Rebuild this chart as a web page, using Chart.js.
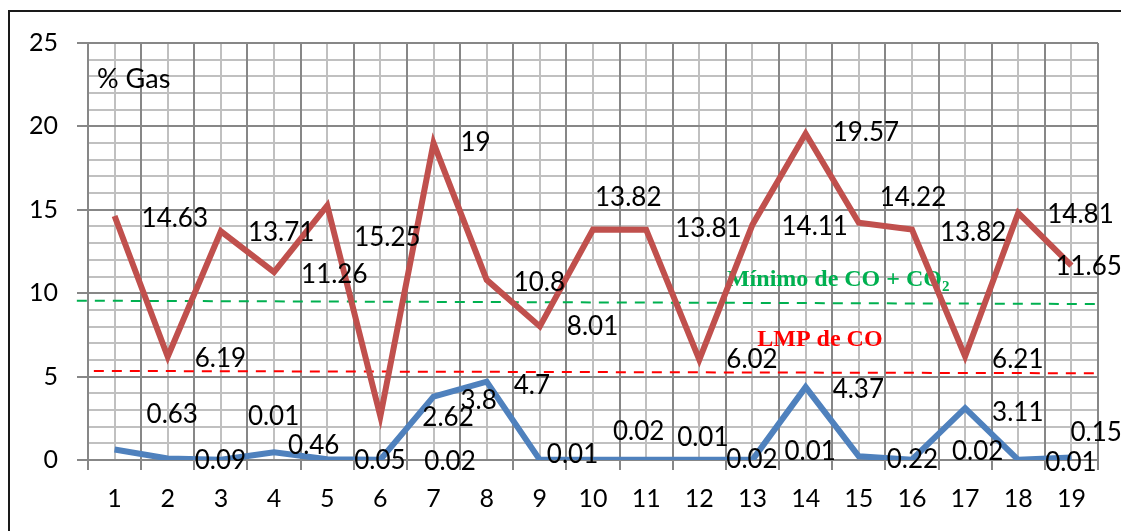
<!DOCTYPE html>
<html>
<head>
<meta charset="utf-8">
<script src="https://cdn.jsdelivr.net/npm/chart.js@4.4.1/dist/chart.umd.min.js"></script>
<style>
  html, body { margin:0; padding:0; background:#fff; overflow:hidden; }
  #frame { position:absolute; left:8px; top:10px; width:2000px; height:2000px; border:2px solid #1a1a1a; }
  #wrap { position:absolute; left:0; top:0; width:1121px; height:531px; }
</style>
</head>
<body>
<div id="frame"></div>
<div id="wrap"><canvas id="gasChart" width="1121" height="531"></canvas></div>
<script>
// muestras 1..19
const muestras = ['1','2','3','4','5','6','7','8','9','10','11','12','13','14','15','16','17','18','19'];
// CO + CO2 (%)
const coCo2 = [14.63, 6.19, 13.71, 11.26, 15.25, 2.62, 19, 10.8, 8.01, 13.82, 13.81, 6.02, 14.11, 19.57, 14.22, 13.82, 6.21, 14.81, 11.65];
// CO (%)
const co = [0.63, 0.09, 0.01, 0.46, 0.05, 0.02, 3.8, 4.7, 0.01, 0.02, 0.01, 0.02, 0.01, 4.37, 0.22, 0.02, 3.11, 0.01, 0.15];
// limites (valor en el extremo izquierdo y derecho)
const minimoCoCo2 = [9.55, 9.35];
const lmpCo = [5.34, 5.2];

// ajuste a mano de cada etiqueta [dx, dy]
const nudgeRojo = [[0,3],[0,2],[0,1],[0,2],[0,32],[15,1],[0,0],[0,3],[0,0],[-25,-32],[2,-1],[0,0],[2,2],[0,-1],[-6,-25],[1,3],[0,3],[2,2],[-43,1]];
const nudgeAzul = [[5,-35],[0,2],[0,-43],[-13,-7],[0,1],[17,2],[0,4],[0,4],[-20,-5],[-7,-28],[4,-22],[0,0],[5,-8],[0,3],[1,3],[13,-8],[0,4],[0,3],[-28,-25]];

const MAYOR = '#878787';
const MENOR = '#c0c0c0';

const fondoPlugin = {
    id: 'fondo',
    beforeDraw(chart){
        const ctx = chart.ctx, a = chart.chartArea;
        const xs = chart.scales.x, ys = chart.scales.y;
        ctx.save();
        ctx.strokeStyle = MENOR;
        ctx.lineWidth = 2;
        // lineas menores verticales (centro de cada muestra)
        for(let i=0;i<muestras.length;i++){
            const px = Math.round(xs.getPixelForValue(i));
            ctx.beginPath(); ctx.moveTo(px, a.top); ctx.lineTo(px, a.bottom); ctx.stroke();
        }
        // lineas menores horizontales (cada 1 %)
        for(let v=1; v<25; v++){
            if(v%5==0) continue;
            const py = Math.round(ys.getPixelForValue(v));
            ctx.beginPath(); ctx.moveTo(a.left, py); ctx.lineTo(a.right, py); ctx.stroke();
        }
        ctx.restore();
    }
};

const limitesPlugin = {
    id: 'limites',
    beforeDatasetsDraw(chart){
        const ctx = chart.ctx;
        const xs = chart.scales.x, ys = chart.scales.y;
        ctx.save();
        ctx.lineWidth = 2;
        ctx.setLineDash([10, 8]);
        // minimo de CO + CO2
        ctx.strokeStyle = '#00b050';
        ctx.beginPath();
        ctx.moveTo(xs.getPixelForValue(-0.71), ys.getPixelForValue(minimoCoCo2[0]));
        ctx.lineTo(xs.getPixelForValue(18.55), ys.getPixelForValue(minimoCoCo2[1]));
        ctx.stroke();
        // LMP de CO
        ctx.strokeStyle = '#ff0000';
        ctx.beginPath();
        ctx.moveTo(xs.getPixelForValue(-0.39), ys.getPixelForValue(lmpCo[0]));
        ctx.lineTo(xs.getPixelForValue(18.5), ys.getPixelForValue(lmpCo[1]));
        ctx.stroke();
        ctx.setLineDash([]);

        // textos
        ctx.textBaseline = 'middle';
        ctx.textAlign = 'left';
        ctx.font = 'bold 24px "Liberation Serif", serif';
        ctx.fillStyle = '#00b050';
        let tx = xs.getPixelForValue(11.52), ty = ys.getPixelForValue(10.8);
        const t1 = 'Mínimo de CO + CO';
        ctx.fillText(t1, tx, ty);
        const w1 = ctx.measureText(t1).width;
        ctx.font = 'bold 15px "Liberation Serif", serif';
        ctx.fillText('2', tx + w1, ty + 7);

        ctx.font = 'bold 24px "Liberation Serif", serif';
        ctx.fillStyle = '#ff0000';
        ctx.fillText('LMP de CO', xs.getPixelForValue(12.09), ys.getPixelForValue(7.2));

        // % Gas
        ctx.font = '27px Lato, sans-serif';
        ctx.fillStyle = '#000';
        ctx.fillText('% Gas', xs.getPixelForValue(-0.33), ys.getPixelForValue(22.8));
        ctx.restore();
    }
};

const etiquetasPlugin = {
    id: 'etiquetas',
    afterDatasetsDraw(chart){
        const ctx = chart.ctx;
        const nudges = [nudgeRojo, nudgeAzul];
        ctx.save();
        ctx.font = '26px Lato, sans-serif';
        ctx.fillStyle = '#000';
        ctx.textAlign = 'left';
        ctx.textBaseline = 'middle';
        chart.data.datasets.forEach((ds, di)=>{
            const meta = chart.getDatasetMeta(di);
            meta.data.forEach((pt, i)=>{
                const n = nudges[di][i];
                ctx.fillText(String(ds.data[i]), pt.x + 27 + n[0], pt.y + n[1]);
            });
        });
        ctx.restore();
    }
};

const ctx = document.getElementById('gasChart').getContext('2d');
const chart = new Chart(ctx, {
    type: 'line',
    data: {
        labels: muestras,
        datasets: [
            { label: 'CO + CO2', data: coCo2, borderColor: '#c0504d', borderWidth: 6, pointRadius: 0, tension: 0, fill: false },
            { label: 'CO', data: co, borderColor: '#4f81bd', borderWidth: 6, pointRadius: 0, tension: 0, fill: false }
        ]
    },
    options: {
        responsive: false,
        animation: false,
        events: [],
        layout: { padding: { left: 0, right: 23, top: 43, bottom: 0 } },
        plugins: { legend: { display: false }, tooltip: { enabled: false } },
        scales: {
            x: {
                offset: true,
                grid: { offset: true, color: MAYOR, lineWidth: 2, tickLength: 10 },
                border: { display: true, color: MAYOR, width: 2 },
                ticks: { color: '#000', font: { family: 'Lato', size: 25 }, padding: 14, maxRotation: 0 },
                afterFit(s){ s.height = 71; }
            },
            y: {
                min: 0, max: 25,
                ticks: { stepSize: 5, color: '#000', font: { family: 'Lato', size: 25 }, padding: 19 },
                grid: { color: MAYOR, lineWidth: 2, tickLength: 11 },
                border: { display: true, color: MAYOR, width: 2 },
                afterFit(s){ s.width = 88; }
            }
        }
    },
    plugins: [fondoPlugin, limitesPlugin, etiquetasPlugin]
});
</script>
</body>
</html>
